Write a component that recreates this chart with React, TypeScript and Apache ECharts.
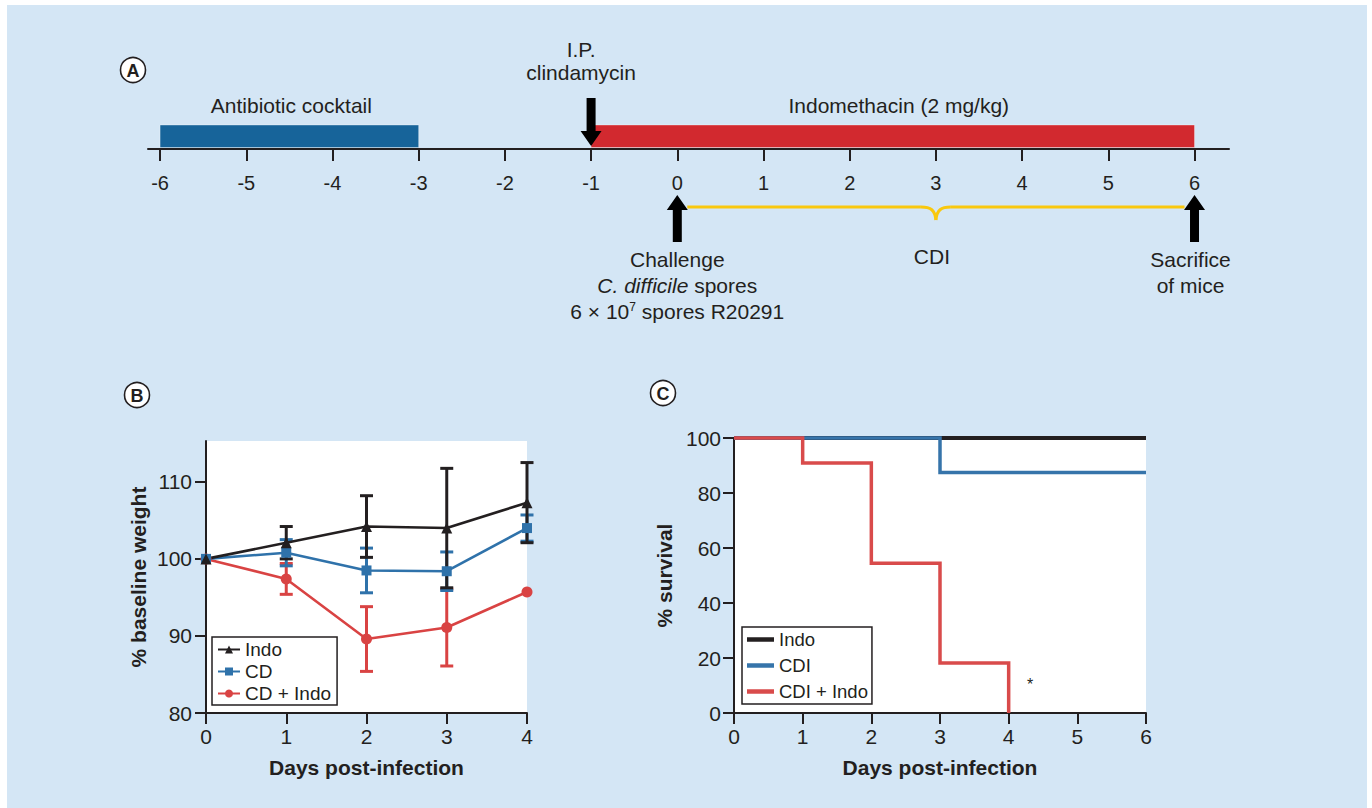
import React, { useEffect, useRef } from "react";
import * as echarts from "echarts";

// ---------- Panel A: experimental timeline ----------
const timelineTicks = [-6, -5, -4, -3, -2, -1, 0, 1, 2, 3, 4, 5, 6];
const treatmentNames = ["Antibiotic cocktail", "Indomethacin (2 mg/kg)"];
const treatmentStart = [-6, -1];
const treatmentEnd = [-3, 6];
const eventDays = [-1, 0, 6];
const eventDirections = ["down", "up", "up"];
const eventLabels = [
  ["I.P.", "clindamycin"],
  ["Challenge", "{i|C. difficile} spores", "6 × 10{sup|7} spores R20291"],
  ["Sacrifice", "of mice"],
];
const infectionWindow = [0, 6];
const infectionLabel = "CDI";

// ---------- Panel B: % baseline weight ----------
const weightDays = [0, 1, 2, 3, 4];
const indoWeight = [100, 102.1, 104.2, 104.0, 107.3];
const indoWeightSem = [0, 2.1, 4.0, 7.75, 5.2];
const cdWeight = [100, 100.8, 98.5, 98.4, 104.0];
const cdWeightSem = [0, 1.7, 2.9, 2.5, 1.7];
const cdIndoWeight = [100, 97.4, 89.6, 91.1, 95.7];
const cdIndoWeightSem = [0, 2.0, 4.2, 5.0, 0];
const weightTicks = [80, 90, 100, 110];

// ---------- Panel C: % survival ----------
const indoSurvivalDays = [0, 6];
const indoSurvival = [100, 100];
const cdiSurvivalDays = [0, 3, 6];
const cdiSurvival = [100, 87.5, 87.5];
const cdiIndoSurvivalDays = [0, 1, 2, 3, 4];
const cdiIndoSurvival = [100, 90.9, 54.5, 18.2, 0];

// ---------- styles ----------
const FONT = "'Liberation Sans', Arial, Helvetica, sans-serif";
const INK = "#231f20";
const BG = "#d4e6f5";
const BAR_COLORS = ["#17649a", "#d2292f"];
const YELLOW = "#f9c80e";
const B_COLORS = { indo: "#231f20", cd: "#2f72aa", cdIndo: "#d94343" };
const C_COLORS = { indo: "#231f20", cdi: "#3674aa", cdiIndo: "#d94b4b" };

const txt = (text: string, x: number, y: number, extra: any = {}) => ({
  type: "text",
  style: {
    text,
    x,
    y,
    fill: INK,
    fontSize: 21,
    fontFamily: FONT,
    align: "center",
    verticalAlign: "middle",
    textAlign: "center",
    textVerticalAlign: "middle",
    ...extra,
  },
});

const circleLabel = (letter: string, cx: number, cy: number) => [
  {
    type: "circle",
    shape: { cx, cy, r: 12.5 },
    style: { fill: "#fff", stroke: INK, lineWidth: 1.6 },
    z: 10,
  },
  { ...txt(letter, cx, cy + 1, { fontSize: 18, fontWeight: "bold" }), z: 11 },
];

// ---------- Option A ----------
const optionA: any = {
  animation: false,
  grid: { left: 148, right: 143, top: 125, bottom: 659 },
  xAxis: {
    type: "value",
    min: -6.14,
    max: 6.4,
    axisLine: { onZero: false, lineStyle: { color: INK, width: 2 } },
    axisTick: { show: true, length: 12, lineStyle: { color: INK, width: 2 }, customValues: timelineTicks },
    axisLabel: {
      customValues: timelineTicks,
      margin: 24,
      fontSize: 20,
      color: INK,
      fontFamily: FONT,
      formatter: (v: number) => String(v),
    },
    splitLine: { show: false },
  },
  yAxis: { type: "value", min: 0, max: 1, show: false },
  graphic: circleLabel("A", 133, 70),
  series: [
    {
      type: "custom",
      data: treatmentStart.map((s, i) => [s, treatmentEnd[i]]),
      renderItem: (params: any, api: any) => {
        const i = params.dataIndex;
        const p1 = api.coord([api.value(0), 1]);
        const p2 = api.coord([api.value(1), 0]);
        return {
          type: "group",
          children: [
            {
              type: "rect",
              shape: { x: p1[0], y: p1[1], width: p2[0] - p1[0], height: p2[1] - p1[1] - 1.5 },
              style: { fill: BAR_COLORS[i], stroke: "rgba(255,255,255,0.35)", lineWidth: 1 },
            },
            txt(treatmentNames[i], (p1[0] + p2[0]) / 2 + (i === 1 ? 6 : 2), p1[1] - 20),
          ],
        };
      },
      z: 3,
    },
    {
      type: "custom",
      data: eventDays.map((d) => [d, 0]),
      renderItem: (params: any, api: any) => {
        const i = params.dataIndex;
        const [cx, base] = api.coord([api.value(0), 0]);
        const sw = 4.5, hw = 10.5, hh = 15;
        const down = eventDirections[i] === "down";
        let pts: number[][];
        const children: any[] = [];
        const rich = {
          i: { fontStyle: "italic", fontSize: 21, fontFamily: FONT, fill: INK },
          sup: { fontSize: 12, fontFamily: FONT, fill: INK, verticalAlign: "top", padding: [0, 0, 9, 0] },
        };
        if (down) {
          const tail = base - 51, tip = base - 3;
          pts = [[cx - sw, tail], [cx + sw, tail], [cx + sw, tip - hh], [cx + hw, tip - hh], [cx, tip], [cx - hw, tip - hh], [cx - sw, tip - hh]];
          eventLabels[i].forEach((line, k) => children.push(txt(line, cx - 10, base - 100 + k * 23, { rich })));
        } else {
          const tip = base + 46, tail = base + 93;
          pts = [[cx - sw, tail], [cx + sw, tail], [cx + sw, tip + hh], [cx + hw, tip + hh], [cx, tip], [cx - hw, tip + hh], [cx - sw, tip + hh]];
          const dx = i === 2 ? -4 : 0;
          eventLabels[i].forEach((line, k) => children.push(txt(line, cx + dx, base + 110 + k * 26, { rich })));
        }
        children.unshift({ type: "polygon", shape: { points: pts }, style: { fill: "#000" }, z2: 5 });
        return { type: "group", children };
      },
      z: 4,
    },
    {
      type: "custom",
      data: [infectionWindow],
      renderItem: (params: any, api: any) => {
        const [x0, base] = api.coord([api.value(0), 0]);
        const [x1] = api.coord([api.value(1), 0]);
        const y = base + 58;
        const mid = (x0 + x1) / 2;
        const st = { stroke: YELLOW, lineWidth: 3, fill: "none" };
        return {
          type: "group",
          children: [
            { type: "line", shape: { x1: x0 + 10, y1: y, x2: mid - 15, y2: y }, style: st },
            { type: "bezierCurve", shape: { x1: mid - 15, y1: y, cpx1: mid - 5, cpy1: y, cpx2: mid - 1, cpy2: y + 3, x2: mid, y2: y + 13 }, style: st },
            { type: "bezierCurve", shape: { x1: mid + 15, y1: y, cpx1: mid + 5, cpy1: y, cpx2: mid + 1, cpy2: y + 3, x2: mid, y2: y + 13 }, style: st },
            { type: "line", shape: { x1: mid + 15, y1: y, x2: x1 - 10, y2: y }, style: st },
            txt(infectionLabel, mid - 4, base + 107),
          ],
        };
      },
      z: 3,
    },
  ],
};

// ---------- Option B ----------
const errorSeries = (mean: number[], sem: number[], color: string) => ({
  type: "custom",
  data: weightDays.filter((_, i) => sem[i] > 0).map((d) => {
    const i = weightDays.indexOf(d);
    return [d, mean[i] - sem[i], mean[i] + sem[i]];
  }),
  renderItem: (params: any, api: any) => {
    const x = api.value(0);
    const lo = api.coord([x, api.value(1)]);
    const hi = api.coord([x, api.value(2)]);
    const hw = 6.5;
    const st = { stroke: color, lineWidth: 3 };
    return {
      type: "group",
      children: [
        { type: "line", shape: { x1: hi[0], y1: hi[1], x2: lo[0], y2: lo[1] }, style: st },
        { type: "line", shape: { x1: hi[0] - hw, y1: hi[1], x2: hi[0] + hw, y2: hi[1] }, style: st },
        { type: "line", shape: { x1: lo[0] - hw, y1: lo[1], x2: lo[0] + hw, y2: lo[1] }, style: st },
      ],
    };
  },
  z: 3,
});

const lineSeries = (name: string, vals: number[], color: string, symbol: string, size: number) => ({
  name,
  type: "line",
  data: weightDays.map((d, i) => [d, vals[i]]),
  symbol,
  symbolSize: size,
  showSymbol: true,
  clip: false,
  lineStyle: { color, width: 2.6 },
  itemStyle: { color },
  z: 3,
});

const axisCommon = {
  axisLine: { onZero: false, lineStyle: { color: INK, width: 2 } },
  axisTick: { length: 11, lineStyle: { color: INK, width: 2 } },
  splitLine: { show: false },
  nameLocation: "middle",
  nameTextStyle: { fontWeight: "bold", fontSize: 21, color: INK, fontFamily: FONT },
};

const optionB: any = {
  animation: false,
  grid: { left: 206, right: 845, top: 441, bottom: 95, show: true, backgroundColor: "#fff", borderWidth: 0 },
  xAxis: {
    type: "value",
    min: 0,
    max: 4,
    interval: 1,
    ...axisCommon,
    axisLabel: { fontSize: 21, color: INK, fontFamily: FONT, margin: 13 },
    name: "Days post-infection",
    nameGap: 44,
  },
  yAxis: {
    type: "value",
    min: 80,
    max: 115.3,
    ...axisCommon,
    axisTick: { length: 11, lineStyle: { color: INK, width: 2 }, customValues: weightTicks },
    axisLabel: { fontSize: 21, color: INK, fontFamily: FONT, margin: 14, customValues: weightTicks },
    name: "% baseline weight",
    nameRotate: 90,
    nameGap: 57,
  },
  legend: {
    orient: "vertical",
    left: 212,
    top: 637,
    data: ["Indo", "CD", "CD + Indo"],
    itemWidth: 22,
    itemHeight: 10,
    itemGap: 3,
    padding: [3, 6, 2, 5],
    backgroundColor: "#fff",
    borderColor: INK,
    borderWidth: 1.5,
    borderRadius: 0,
    textStyle: { fontSize: 19, color: INK, fontFamily: FONT },
  },
  graphic: circleLabel("B", 137, 395),
  series: [
    lineSeries("CD + Indo", cdIndoWeight, B_COLORS.cdIndo, "circle", 11),
    errorSeries(cdIndoWeight, cdIndoWeightSem, B_COLORS.cdIndo),
    lineSeries("CD", cdWeight, B_COLORS.cd, "rect", 10),
    errorSeries(cdWeight, cdWeightSem, B_COLORS.cd),
    lineSeries("Indo", indoWeight, B_COLORS.indo, "triangle", 11),
    errorSeries(indoWeight, indoWeightSem, B_COLORS.indo),
  ],
};

// ---------- Option C ----------
const stepSeries = (name: string, days: number[], vals: number[], color: string, width: number) => ({
  name,
  type: "line",
  step: "end",
  data: days.map((d, i) => [d, vals[i]]),
  symbol: "none",
  clip: false,
  lineStyle: { color, width, join: "miter", cap: "butt" },
  itemStyle: { color },
  z: 3,
});

const optionC: any = {
  animation: false,
  grid: { left: 734, right: 226, top: 438, bottom: 95, show: true, backgroundColor: "#fff", borderWidth: 0 },
  xAxis: {
    type: "value",
    min: 0,
    max: 6,
    interval: 1,
    ...axisCommon,
    axisLabel: { fontSize: 21, color: INK, fontFamily: FONT, margin: 13 },
    name: "Days post-infection",
    nameGap: 44,
  },
  yAxis: {
    type: "value",
    min: 0,
    max: 100,
    interval: 20,
    ...axisCommon,
    axisLabel: { fontSize: 21, color: INK, fontFamily: FONT, margin: 13 },
    name: "% survival",
    nameRotate: 90,
    nameGap: 59,
  },
  legend: {
    orient: "vertical",
    left: 742,
    top: 627,
    data: ["Indo", "CDI", "CDI + Indo"],
    icon: "rect",
    itemWidth: 27,
    itemHeight: 4.5,
    itemGap: 7,
    padding: [3, 4, 3, 5],
    backgroundColor: "#fff",
    borderColor: INK,
    borderWidth: 1.5,
    borderRadius: 0,
    textStyle: { fontSize: 18.5, color: INK, fontFamily: FONT },
  },
  graphic: [...circleLabel("C", 663, 393), txt("*", 1030, 684, { fontSize: 16 })],
  series: [
    stepSeries("Indo", indoSurvivalDays, indoSurvival, C_COLORS.indo, 4),
    stepSeries("CDI", cdiSurvivalDays, cdiSurvival, C_COLORS.cdi, 3.5),
    stepSeries("CDI + Indo", cdiIndoSurvivalDays, cdiIndoSurvival, C_COLORS.cdiIndo, 3.5),
  ],
};

function Chart({ option }: { option: any }) {
  const ref = useRef<HTMLDivElement>(null);
  useEffect(() => {
    const chart = echarts.init(ref.current as HTMLDivElement, null, { renderer: "svg" });
    chart.setOption(option);
    return () => chart.dispose();
  }, [option]);
  return <div ref={ref} style={{ position: "absolute", left: 0, top: 0, width: 1372, height: 808 }} />;
}

export default function App() {
  return (
    <div style={{ position: "absolute", left: 0, top: 0, width: 1372, height: 808, background: "#fff", overflow: "hidden" }}>
      <div style={{ position: "absolute", left: 7, top: 5, width: 1360, height: 803, background: BG }} />
      <Chart option={optionA} />
      <Chart option={optionB} />
      <Chart option={optionC} />
    </div>
  );
}
